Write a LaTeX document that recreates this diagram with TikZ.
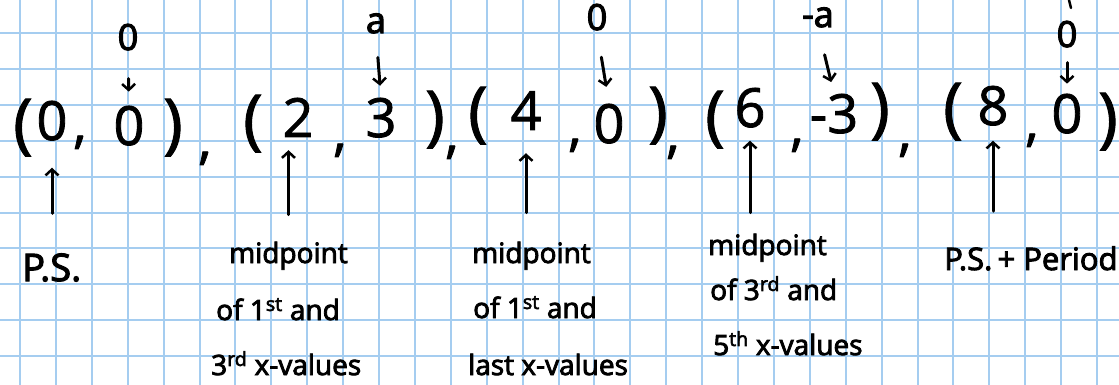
\documentclass[tikz,border=0pt]{standalone}
\usepackage{fontspec}
\setmainfont{Open Sans}
\newfontfamily\hand{Open Sans}[FakeBold=1.5]
\newfontfamily\handlab{Open Sans}[FakeBold=3]
\usetikzlibrary{arrows.meta}
\definecolor{gridblue}{RGB}{165,205,240}
\begin{document}
\begin{tikzpicture}[x=1pt,y=-1pt,
  ch/.style={inner sep=0pt, anchor=base, font=\hand\fontsize{54}{60}\selectfont},
  par/.style={inner sep=0pt, anchor=base, font=\hand\fontsize{66}{70}\selectfont},
  toplab/.style={inner sep=0pt, anchor=base, font=\handlab\fontsize{36}{40}\selectfont},
  lab/.style={inner sep=0pt, anchor=base west, font=\handlab\fontsize{28}{34}\selectfont},
  arr/.style={line width=3pt, line cap=round, -{Straight Barb[length=6pt,width=13pt,line width=2.5pt]}},
  gridline/.style={gridblue, line width=2pt}
]
\useasboundingbox (0,0) rectangle (1119,385);
\fill[white] (0,0) rectangle (1119,385);
\foreach \i in {0,...,30} \draw[gridline] ({20+35.9*\i},0) -- ({20+35.9*\i},385);
\foreach \j in {0,...,9} \draw[gridline] (0,{33+35.9*\j}) -- (1119,{33+35.9*\j});

% main row
\node[par] (p1o) at (23,146) {(};
\node[ch] (x1) at (52,140) {0};
\node[ch] (c1) at (80,142) {,};
\node[ch] (y1) at (129,145) {0};
\node[par] (p1c) at (173,146) {)};
\node[ch] (s1) at (205,158) {,};
\node[par] (p2o) at (253,142) {(};
\node[ch] (x2) at (298,137) {2};
\node[ch] (c2) at (340,150) {,};
\node[ch] (y2) at (381,137) {3};
\node[par] (p2c) at (435,138) {)};
\node[ch] (s2) at (452,152) {,};
\node[par] (p3o) at (478,134) {(};
\node[ch] (x3) at (526,130) {4};
\node[ch] (c3) at (575,145) {,};
\node[ch] (y3) at (609,143) {0};
\node[par] (p3c) at (658,134) {)};
\node[ch] (s3) at (673,152) {,};
\node[par] (p4o) at (715,138) {(};
\node[ch] (x4) at (750,127) {6};
\node[ch] (c4) at (797,145) {,};
\node[ch] (y4) at (834,133) {-3};
\node[par] (p4c) at (880,130) {)};
\node[ch] (s4) at (905,150) {,};
\node[par] (p5o) at (953,130) {(};
\node[ch] (x5) at (993,125) {8};
\node[ch] (c5) at (1032,140) {,};
\node[ch] (y5) at (1067,133) {0};
\node[par] (p5c) at (1108,140) {)};

% top labels
\node[toplab] (t1) at (128,50) {0};
\node[toplab] (t2) at (376,33) {a};
\node[toplab] (t3) at (597,30) {0};
\node[toplab] (t4) at (818,27) {-a};
\node[toplab] (t5) at (1067,47) {0};
\draw[line width=2.5pt, line cap=round] (1069,0) -- (1071,8);

\draw[arr, shorten <=28pt, shorten >=14pt] (t1.south) -- (y1.north);
\draw[arr, shorten <=24pt, shorten >=12pt] (t2.south) -- (y2.north);
\draw[arr, shorten <=27pt, shorten >=17pt] (t3.south) -- (y3.north);
\draw[arr, shorten <=28pt, shorten >=12pt] (t4.south) -- (y4.north);
\draw[arr, shorten <=15pt, shorten >=10pt] (t5.south) -- (y5.north);

% bottom labels
\node[lab, font=\handlab\fontsize{38}{40}\selectfont] (ps) at (22,281) {P.S.};
\node[lab] (m1a) at (229,263) {midpoint};
\node[lab] (m1b) at (216,320) {of 1\textsuperscript{st} and};
\node[lab] (m1c) at (211,375) {3\textsuperscript{rd} x-values};
\node[lab] (m2a) at (472,263) {midpoint};
\node[lab] (m2b) at (473,318) {of 1\textsuperscript{st} and};
\node[lab] (m2c) at (468,375) {last x-values};
\node[lab] (m3a) at (708,255) {midpoint};
\node[lab] (m3b) at (710,300) {of 3\textsuperscript{rd} and};
\node[lab] (m3c) at (713,355) {5\textsuperscript{th} x-values};
\node[lab, font=\handlab\fontsize{31}{34}\selectfont] (pp) at (944,270) {P.S.\,+ Period};

\draw[arr, shorten <=40pt, shorten >=27pt] (x1.south |- ps.north) -- (x1.south);
\draw[arr, shorten <=27pt, shorten >=13pt] (m1a.north) -- (m1a.north |- x2.south);
\draw[arr, shorten <=29pt, shorten >=23pt] (x3.south |- m2a.north) -- (x3.south);
\draw[arr, shorten <=21pt, shorten >=13pt] (x4.south |- m3a.north) -- (x4.south);
\draw[arr, shorten <=35pt, shorten >=15pt] (x5.south |- pp.north) -- (x5.south);
\end{tikzpicture}
\end{document}
